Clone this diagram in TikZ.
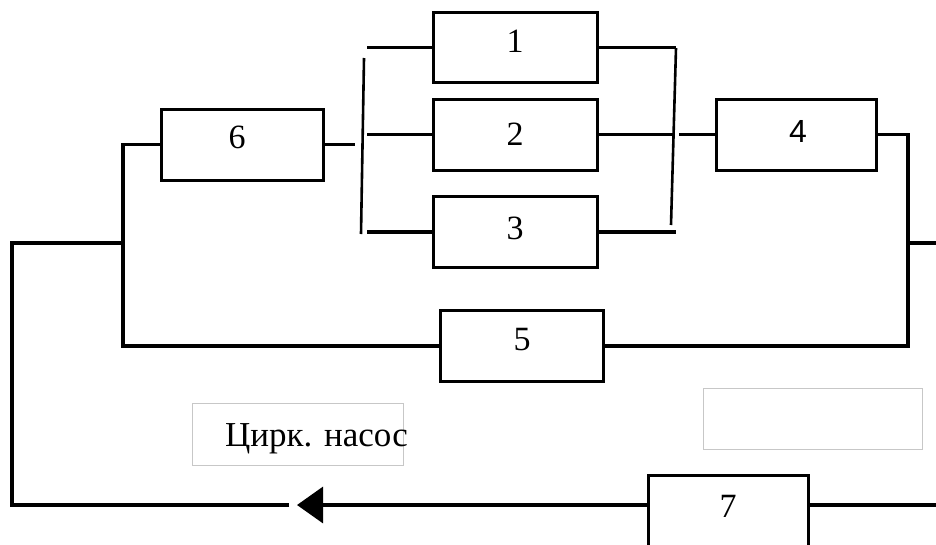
\documentclass[tikz,border=0pt]{standalone}
\usepackage{fontspec}
\setmainfont{Liberation Serif}
\newfontfamily\arialfont{Liberation Sans}
\usetikzlibrary{arrows.meta}
\tikzset{
  blk/.style={draw, line width=3pt, rectangle, inner sep=0pt, minimum width=#1, minimum height=71pt},
  blk/.default=163pt,
  wire/.style={line width=3.2pt},
  numtxt/.style={font=\fontsize{34}{40}\selectfont},
  faint/.style={draw=black!22, line width=0.9pt, rectangle, inner sep=0pt}
}
\begin{document}
\begin{tikzpicture}[x=1pt,y=-1pt]
\clip (0,0) rectangle (936,544);
\fill[white] (0,0) rectangle (936,544);

% blocks
\node[blk=164pt, minimum height=70pt, label={[numtxt, yshift=6pt]center:1}] (b1) at (515,47.5) {};
\node[blk=164pt, label={[numtxt]center:2}] (b2) at (515,134.5) {};
\node[blk=164pt, label={[numtxt, yshift=4pt]center:3}] (b3) at (515,232) {};
\node[blk=162pt, label={[numtxt, xshift=-5pt, yshift=7pt]center:6}] (b6) at (242,144.5) {};
\node[blk=160pt, label={[font=\arialfont\fontsize{32}{38}\selectfont, xshift=2pt, yshift=3pt]center:4}] (b4) at (796,134.5) {};
\node[blk=163pt, label={[numtxt, yshift=6pt]center:5}] (b5) at (522,346) {};
\node[blk=160pt, minimum height=120pt, label={[numtxt, yshift=29pt]center:7}] (b7) at (728,535) {};

% faint boxes
\node[faint, minimum width=211pt, minimum height=62pt] (pump) at (297.5,434) {};
\node[anchor=base west, inner sep=0pt, font=\fontsize{35}{42}\selectfont] (pumptext) at (225,446) {Цирк. насос};
\node[faint, minimum width=219pt, minimum height=61pt] (blank) at (812.5,418.5) {};

% helper coordinates
\coordinate (jl) at (123,243);
\coordinate (lc) at (12,243);
\coordinate (jr) at (908,243);
\coordinate (rend) at (940,243);
\coordinate (ar) at (297,505);
\coordinate (p7w) at ([yshift=30pt]b7.west);
\coordinate (p7e) at ([yshift=30pt]b7.east);
\coordinate (bend) at (940,505);
\coordinate (s6) at (355,0);
\coordinate (sl) at (367,0);
\coordinate (blt) at (364,58);
\coordinate (blb) at (361,234);
\coordinate (brt) at (676,48);
\coordinate (brb) at (671,225);
\coordinate (s4) at (679,0);

% main loop
\draw[wire] (b6.west) -| (jl) |- (b5.west);
\draw[wire] (b4.east) -| (jr) |- (b5.east);
\draw[wire] (jr) -- (rend);
\draw[wire] ([xshift=-8pt]ar) -| (lc) -- (jl);
\draw[wire, -{Triangle[length=26pt, width=36pt]}] (p7w) -- (ar);
\draw[wire] (p7e) -- (bend);

% parallel group
\draw[wire] (b6.east) -- (b6.east -| s6);
\draw[wire, line width=2.6pt] (blt) -- (blb);
\draw[wire] (b1.west) -- (b1.west -| sl);
\draw[wire] (b2.west) -- (b2.west -| sl);
\draw[wire] (b3.west) -- (b3.west -| sl);
\draw[wire] (b1.east) -- (b1.east -| brt);
\draw[wire] (b2.east) -- ([xshift=-1pt]b2.east -| brt);
\draw[wire] (b3.east) -- (b3.east -| brt);
\draw[wire, line width=2.6pt] (brt) -- (brb);
\draw[wire] (b2.east -| s4) -- (b4.west);
\end{tikzpicture}
\end{document}
